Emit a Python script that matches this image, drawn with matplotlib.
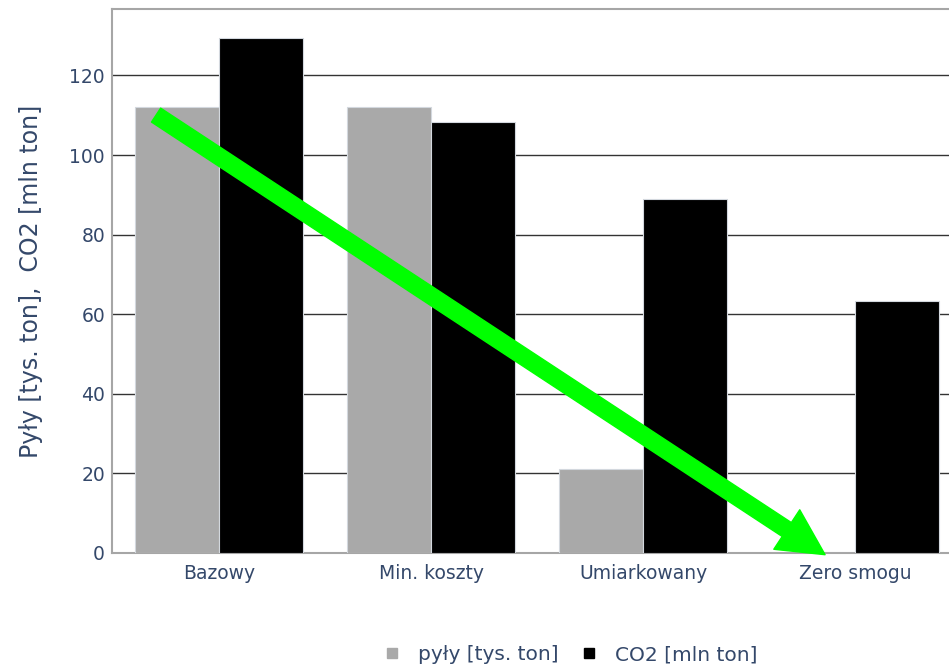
import numpy as np
import matplotlib.pyplot as plt
from matplotlib.lines import Line2D

# dane
scenariusze = ['Bazowy', 'Min. koszty', 'Umiarkowany', 'Zero smogu']
pyly = [112, 112, 21, 0]          # tys. ton
co2 = [129.4, 108.3, 88.9, 63.4]  # mln ton
y_ticks = [0, 20, 40, 60, 80, 100, 120]

txt_color = '#34486a'
plt.rcParams['font.family'] = ['DejaVu Sans']

fig = plt.figure(figsize=(9.49, 6.66), dpi=100)
ax = fig.add_axes([112 / 949, 1 - 553 / 666, 1 - 112 / 949, (553 - 9) / 666])

x = np.arange(len(scenariusze))
w = 0.396
ax.bar(x - w / 2, pyly, w, color='#a9a9a9', edgecolor='#d3d8de', linewidth=0.8, zorder=3)
ax.bar(x + w / 2, co2, w, color='black', edgecolor='#d3d8de', linewidth=0.8, zorder=3)

ax.set_xlim(-0.505, 3.443)
ax.set_ylim(0, 136.7)
ax.set_yticks(y_ticks)
ax.set_xticks(x)
ax.set_xticklabels(scenariusze)
ax.yaxis.grid(True, color='#333333', linewidth=1, zorder=0)
ax.tick_params(axis='both', length=0, labelsize=13.5, labelcolor=txt_color)
ax.tick_params(axis='y', pad=5)
ax.tick_params(axis='x', pad=8)
for side in ['left', 'top', 'bottom']:
    ax.spines[side].set_color('#a6a6a6')
    ax.spines[side].set_linewidth(1.5)
ax.spines['right'].set_visible(False)

ax.set_ylabel('Pyły [tys. ton],  CO2 [mln ton]', fontsize=17, color=txt_color)
ax.yaxis.set_label_coords(-0.082, 0.5)

# strzałka spadku
px = lambda u: (u - 219) / 212
py = lambda v: (553.3 - v) / 3.983
ax.annotate('', xy=(px(825), py(555)), xytext=(px(156), py(115)),
            arrowprops=dict(arrowstyle='simple,head_length=3.3,head_width=3.4,tail_width=1.2',
                            color='#00ff00', mutation_scale=10, shrinkA=0, shrinkB=0),
            annotation_clip=False, zorder=5)

handles = [Line2D([], [], marker='s', linestyle='none', color='#a9a9a9', markersize=7.5),
           Line2D([], [], marker='s', linestyle='none', color='black', markersize=7.5)]
fig.legend(handles, ['pyły [tys. ton]', 'CO2 [mln ton]'], loc='center',
           bbox_to_anchor=(570 / 949, 1 - 655 / 666), ncol=2, frameon=False,
           fontsize=14.5, labelcolor=txt_color, handletextpad=0.8, columnspacing=1.0,
           handlelength=1.0)

fig.savefig('out.png', dpi=100)
